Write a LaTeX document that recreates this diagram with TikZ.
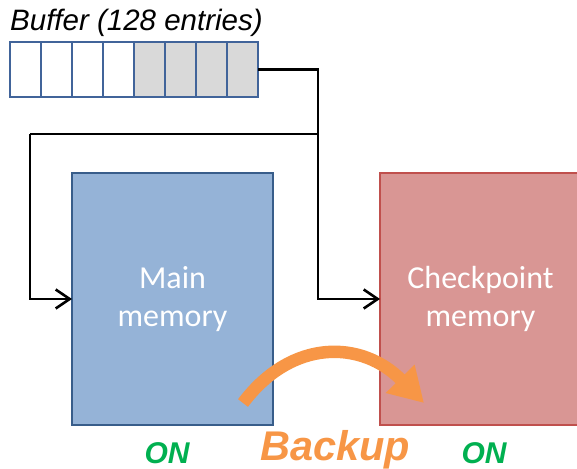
\documentclass[tikz,border=0pt]{standalone}
\usepackage{fontspec}
\setmainfont{Liberation Sans}
\newfontfamily\calib{Carlito}
\usetikzlibrary{arrows.meta}

\definecolor{bufborder}{RGB}{65,100,154}
\definecolor{bufgray}{RGB}{217,217,217}
\definecolor{mainfill}{RGB}{149,179,215}
\definecolor{mainborder}{RGB}{56,93,138}
\definecolor{ckfill}{RGB}{217,150,148}
\definecolor{ckborder}{RGB}{192,80,77}
\definecolor{backorange}{RGB}{247,150,70}
\definecolor{ongreen}{RGB}{0,176,80}

\tikzset{
  cell/.style={draw=bufborder, line width=1.8pt, minimum width=31pt, minimum height=55pt,
               inner sep=0pt, outer sep=0pt, anchor=west},
  memblock/.style={line width=1.5pt, minimum width=201pt, minimum height=252pt,
               inner sep=0pt, outer sep=0pt, text=white, align=center,
               font=\calib\fontsize{32}{38}\selectfont},
  wire/.style={line width=2.6pt, black},
  feed/.style={wire, -{Straight Barb[length=14pt,width=19pt,line width=2.6pt]}},
  onlabel/.style={text=ongreen, font=\bfseries\itshape\fontsize{30}{32}\selectfont}
}

\begin{document}
\begin{tikzpicture}[x=1pt,y=-1pt]
\useasboundingbox (0,0) rectangle (577,468);
\begin{scope}
\clip (0,0) rectangle (577,468);

% buffer title
\node[anchor=base west, inner sep=0pt, font=\itshape\fontsize{29.5}{32}\selectfont] (title) at (10,31) {Buffer (128 entries)};

% buffer cells: four free, four occupied
\foreach \i in {1,...,4}
  \node[cell, fill=white] (c\i) at ({10+31*(\i-1)},69.5) {};
\foreach \i in {5,...,8}
  \node[cell, fill=bufgray] (c\i) at ({10+31*(\i-1)},69.5) {};

% memories
\node[memblock, fill=mainfill, draw=mainborder] (main) at (172.5,299) {Main\\memory};
\node[memblock, fill=ckfill, draw=ckborder, anchor=west] (ck) at (380,299) {Checkpoint\\memory};

% wiring from the buffer to both memories
\coordinate (j) at (318,134);
\coordinate (lc) at (30,134);
\draw[wire] (c8.east) -| (j);
\draw[feed] (j) |- (ck.west);
\draw[wire] (j) -- (lc);
\draw[feed] (lc) |- (main.west);

% backup arrow
\draw[backorange, line width=12.5pt, -{Triangle[length=34pt,width=38pt]}]
  (243,403) .. controls (292,338) and (362,340) .. (424,403);

% labels
\node[onlabel, anchor=base] (on1) at (167,463) {ON};
\node[onlabel, anchor=base] (on2) at (484,463) {ON};
\node[anchor=base, text=backorange, font=\bfseries\itshape\fontsize{41.5}{44}\selectfont] (bk) at (335,460) {Backup};
\end{scope}
\end{tikzpicture}
\end{document}
